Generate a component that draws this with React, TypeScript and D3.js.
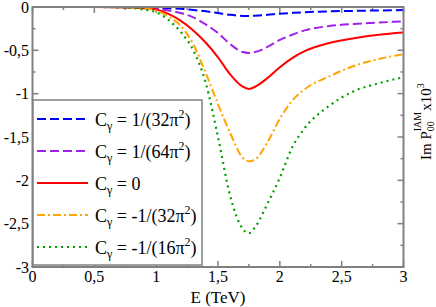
import { useEffect, useRef } from 'react';
import * as d3 from 'd3';

// E (TeV) grid shared by every curve
const energy = [0, 0.5, 0.8, 0.9, 1.0, 1.1, 1.2, 1.3, 1.4, 1.5, 1.6, 1.7, 1.75, 1.8, 1.9, 2.0, 2.1, 2.2, 2.4, 2.6, 2.8, 3.0];

// Im P00 IAM x10^3 for each C_gamma
const cPos32 = [0, 0, 0, -0.005, -0.01, -0.015, -0.02, -0.035, -0.05, -0.07, -0.09, -0.103, -0.105, -0.1, -0.09, -0.077, -0.068, -0.06, -0.05, -0.045, -0.04, -0.035];
const cPos64 = [0, 0, -0.005, -0.01, -0.02, -0.04, -0.07, -0.12, -0.2, -0.3, -0.43, -0.52, -0.53, -0.52, -0.46, -0.38, -0.32, -0.27, -0.22, -0.195, -0.18, -0.165];
const cZero = [0, 0, -0.005, -0.015, -0.03, -0.08, -0.16, -0.27, -0.41, -0.58, -0.78, -0.92, -0.945, -0.92, -0.82, -0.695, -0.59, -0.51, -0.415, -0.36, -0.32, -0.295];
const cNeg32 = [0, 0, -0.005, -0.015, -0.04, -0.11, -0.22, -0.43, -0.76, -1.12, -1.46, -1.74, -1.78, -1.76, -1.56, -1.29, -1.08, -0.95, -0.8, -0.68, -0.6, -0.545];
const cNeg16 = [0, 0, -0.01, -0.03, -0.06, -0.15, -0.29, -0.5, -0.87, -1.5, -2.19, -2.56, -2.61, -2.54, -2.27, -1.97, -1.62, -1.4, -1.14, -0.97, -0.88, -0.81];

const legendValues = ['1/(32π', '1/(64π', '0', '-1/(32π', '-1/(16π'];
const xTicks = [0, 0.5, 1, 1.5, 2, 2.5, 3];
const xTickLabels = ['0', '0,5', '1', '1,5', '2', '2,5', '3'];
const yTicks = [0, -0.5, -1, -1.5, -2, -2.5, -3];
const yTickLabels = ['0', '-0,5', '-1', '-1,5', '-2', '-2,5', '-3'];

const styles = [
  { values: cPos32, color: '#0000ff', dash: '9,4' },
  { values: cPos64, color: '#a020f0', dash: '9,4' },
  { values: cZero, color: '#ff0000', dash: null },
  { values: cNeg32, color: '#ffa500', dash: '8,3,2,3' },
  { values: cNeg16, color: '#00a000', dash: '2,4' },
];

const App = () => {
  const svgRef = useRef(null);

  useEffect(() => {
    if (!svgRef.current) return;
    const width = 436;
    const height = 307;
    const font = '"Liberation Serif", "DejaVu Serif", serif';
    const frame = '#808080';

    const svg = d3.select(svgRef.current).attr('width', width).attr('height', height)
      .style('font-family', font);
    svg.selectAll('*').remove();

    const x = d3.scaleLinear().domain([0, 3]).range([32.5, 403.5]);
    const y = d3.scaleLinear().domain([-3, 0]).range([267, 7]);

    const g = svg.append('g');

    // ticks (inside, all four sides)
    const xMinor = d3.range(0.25, 3, 0.5);
    const yMinor = d3.range(-0.25, -3, -0.5);
    const tick = (x1: number, y1: number, x2: number, y2: number) =>
      g.append('line').attr('x1', x1).attr('y1', y1).attr('x2', x2).attr('y2', y2)
        .attr('stroke', frame).attr('stroke-width', 1.5);
    xTicks.forEach((t) => { tick(x(t), 267, x(t), 261); tick(x(t), 7, x(t), 13); });
    xMinor.forEach((t) => { tick(x(t), 267, x(t), 264); tick(x(t), 7, x(t), 10); });
    yTicks.forEach((t) => { tick(32.5, y(t), 38.5, y(t)); tick(403.5, y(t), 397.5, y(t)); });
    yMinor.forEach((t) => { tick(32.5, y(t), 35.5, y(t)); tick(403.5, y(t), 400.5, y(t)); });

    // curves
    styles.forEach((s) => {
      const pts = energy.map((e, i) => [e, s.values[i]] as [number, number]);
      const line = d3.line<[number, number]>()
        .x((d) => x(d[0]))
        .y((d) => y(d[1]))
        .curve(d3.curveMonotoneX);
      const p = g.append('path').attr('d', line(pts)!).attr('fill', 'none')
        .attr('stroke', s.color).attr('stroke-width', 2);
      if (s.dash) p.attr('stroke-dasharray', s.dash);
      if (s.dash === '2,4') p.attr('stroke-width', 2.2);
    });

    // frame
    g.append('rect').attr('x', 32.5).attr('y', 7).attr('width', 371).attr('height', 260)
      .attr('fill', 'none').attr('stroke', frame).attr('stroke-width', 2);

    // tick labels
    xTicks.forEach((t, i) => {
      g.append('text').attr('x', x(t)).attr('y', 282).attr('text-anchor', 'middle')
        .style('font-family', font).attr('font-size', 16).text(xTickLabels[i]);
    });
    yTicks.forEach((t, i) => {
      g.append('text').attr('x', 29).attr('y', y(t)).attr('dy', '0.35em').attr('text-anchor', 'end')
        .style('font-family', font).attr('font-size', 16).text(yTickLabels[i]);
    });

    g.append('text').attr('x', 218).attr('y', 303).attr('text-anchor', 'middle')
      .style('font-family', font).attr('font-size', 17).text('E (TeV)');

    // right-side axis label
    const rl = g.append('text').attr('transform', 'translate(431,160) rotate(-90)')
      .style('font-family', font).attr('font-size', 15);
    rl.append('tspan').text('Im P');
    rl.append('tspan').attr('font-size', 10).attr('dy', 3).text('00');
    rl.append('tspan').attr('font-size', 10).attr('dx', -10).attr('dy', -13).text('IAM');
    rl.append('tspan').attr('dx', 1).attr('dy', 10).text('x10');
    rl.append('tspan').attr('font-size', 10).attr('dy', -7).text('3');

    // legend
    const lg = g.append('g');
    lg.append('rect').attr('x', 33).attr('y', 100).attr('width', 169).attr('height', 165)
      .attr('fill', 'white').attr('stroke', frame).attr('stroke-width', 1.5);
    styles.forEach((s, i) => {
      const ry = 119 + i * 32;
      const l = lg.append('line').attr('x1', 37).attr('x2', 88).attr('y1', ry).attr('y2', ry)
        .attr('stroke', s.color).attr('stroke-width', 2);
      if (s.dash) l.attr('stroke-dasharray', s.dash);
      const t = lg.append('text').attr('x', 95).attr('y', ry + 7)
        .style('font-family', font).attr('font-size', 18);
      t.append('tspan').text('C');
      t.append('tspan').attr('font-size', 12).attr('dy', 4).text('γ');
      t.append('tspan').attr('dy', -4).text(' = ' + legendValues[i]);
      if (legendValues[i].includes('π')) {
        t.append('tspan').attr('font-size', 12).attr('dy', -8).text('2');
        t.append('tspan').attr('dy', 8).text(')');
      }
    });
  }, []);

  return <svg ref={svgRef} style={{ position: 'absolute', left: 0, top: 0 }}></svg>;
};

export default App;
